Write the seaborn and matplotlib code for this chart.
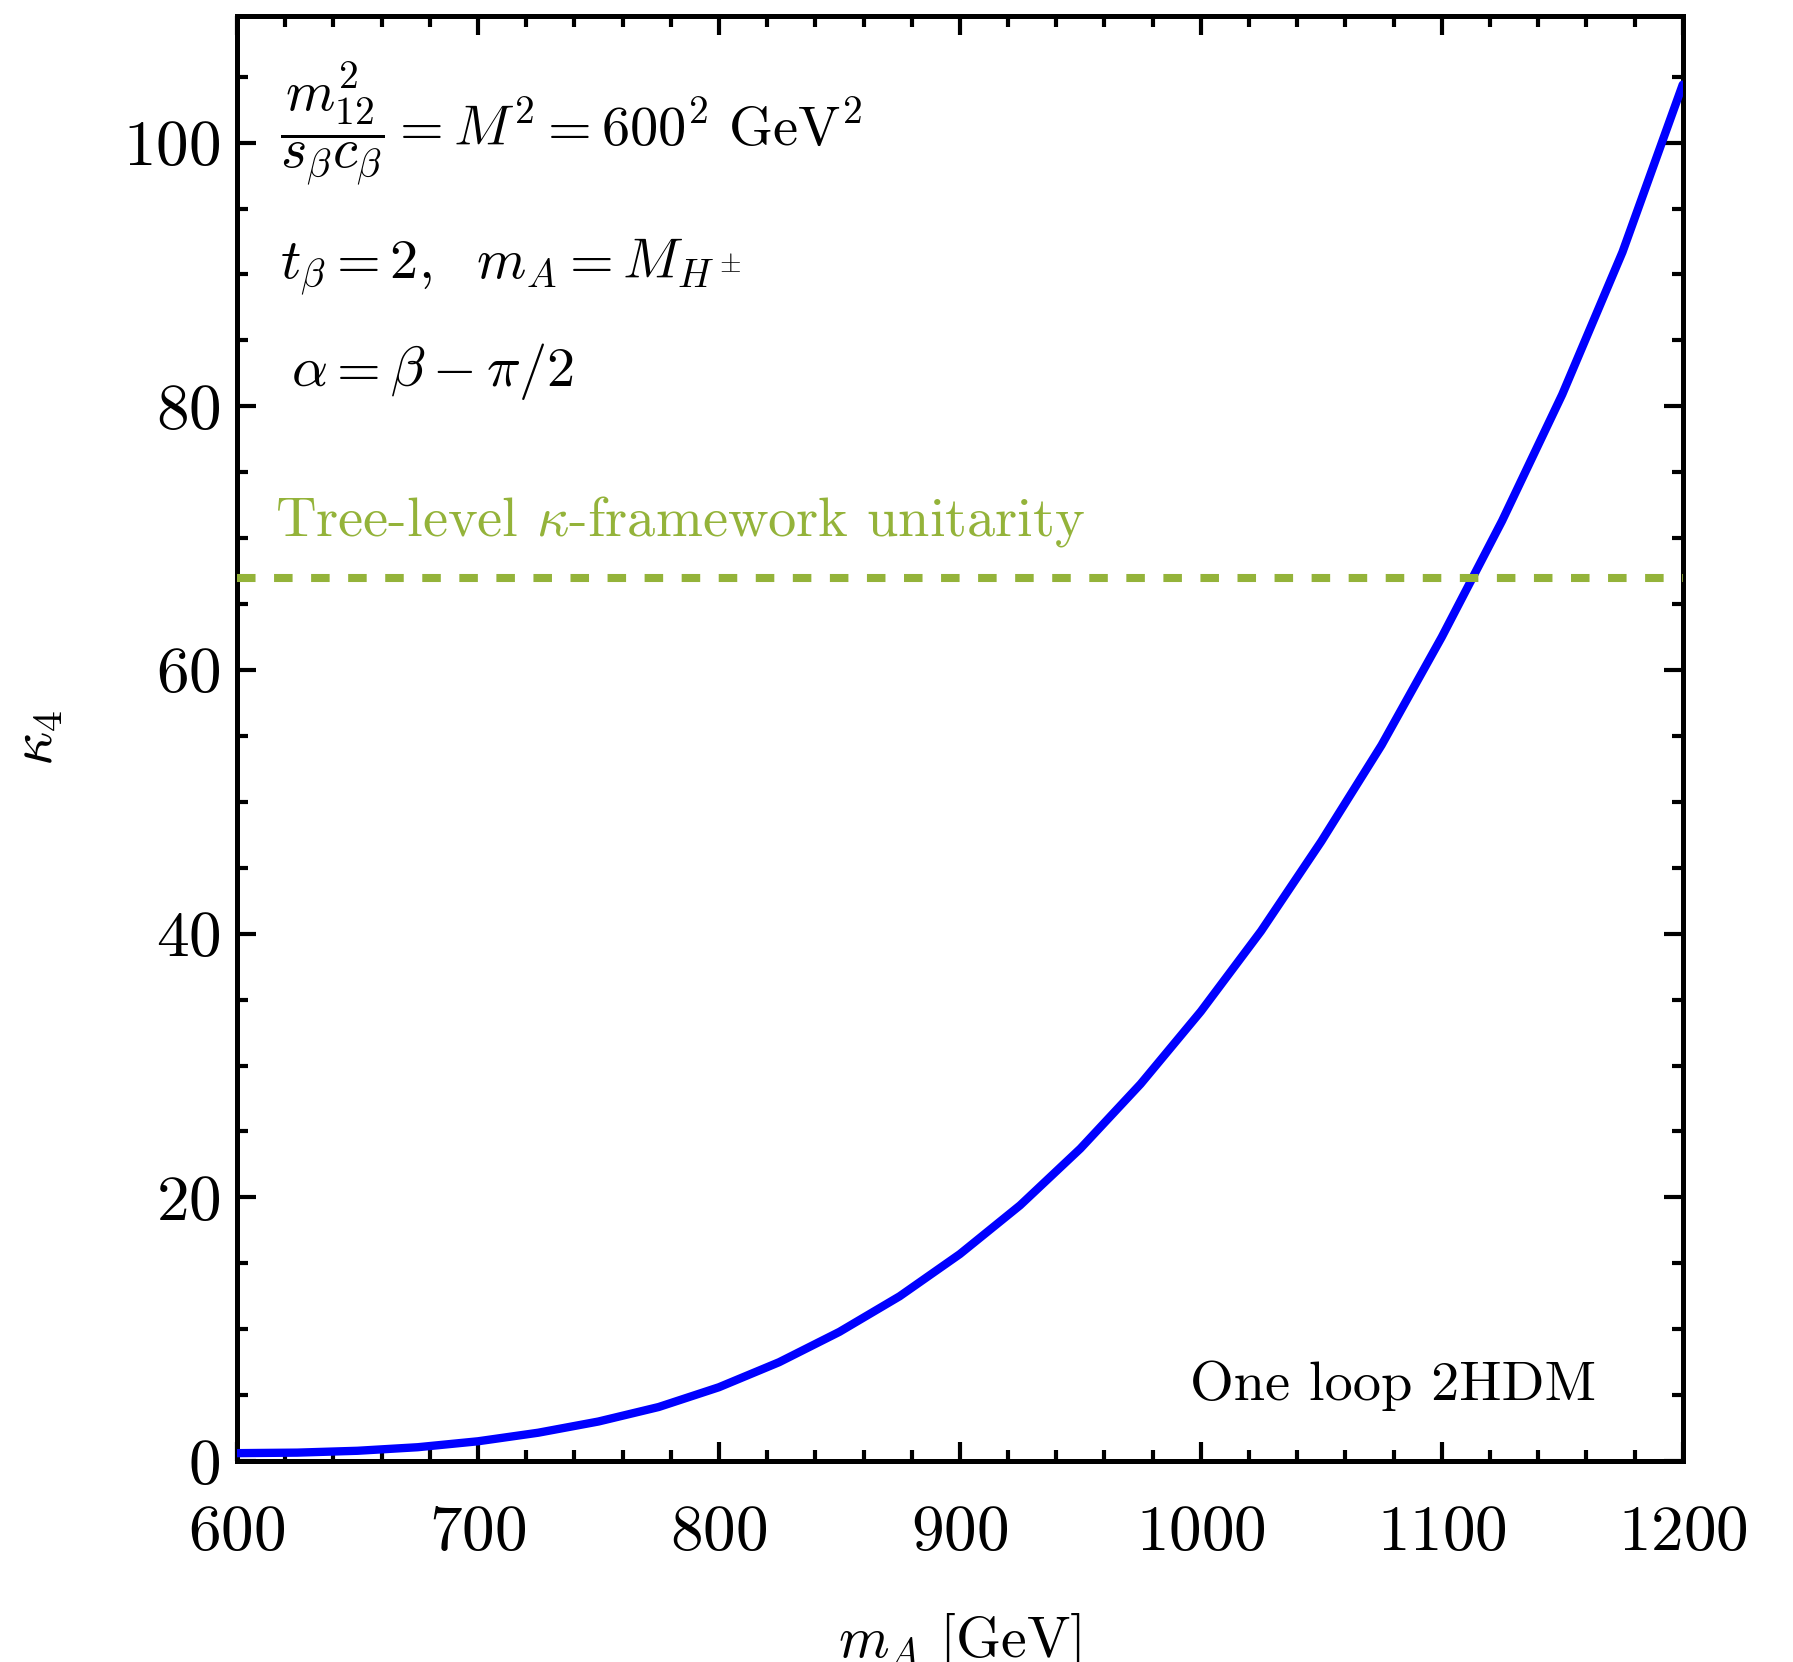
import numpy as np
import pandas as pd
import matplotlib
matplotlib.use("Agg")
import matplotlib.pyplot as plt
from matplotlib.ticker import MultipleLocator
import seaborn as sns

# kappa_4 versus m_A (one-loop 2HDM)
m_A = [600, 625, 650, 675, 700, 725, 750, 775, 800, 825, 850, 875, 900,
       925, 950, 975, 1000, 1025, 1050, 1075, 1100, 1125, 1150, 1175, 1200]
kappa4 = [0.6, 0.64, 0.78, 1.05, 1.5, 2.15, 3.0, 4.1, 5.6, 7.5, 9.8, 12.5, 15.7,
          19.4, 23.7, 28.6, 34.1, 40.2, 47.0, 54.3, 62.5, 71.3, 80.9, 91.7, 104.4]

# tree-level unitarity bound on kappa_4
unitarity_bound = 67.0

x_ticks = [600, 700, 800, 900, 1000, 1100, 1200]
y_ticks = [0, 20, 40, 60, 80, 100]

sns.set_theme(style="ticks")
plt.rcParams.update({
    "font.family": ["cmr10", "DejaVu Serif"],
    "mathtext.fontset": "cm",
    "axes.formatter.use_mathtext": True,
    "axes.unicode_minus": False,
    "font.size": 23.5,
    "text.color": "black",
    "axes.labelcolor": "black",
})

fs_tick = 23.5
fs_text = 20.3
fig = plt.figure(figsize=(17.93 / 2, 16.62 / 2), dpi=200)
ax = fig.add_axes([0.1322, 0.1209, 0.9385 - 0.1322, 0.9905 - 0.1209])

df = pd.DataFrame({"m_A": m_A, "kappa4": kappa4})
sns.lineplot(data=df, x="m_A", y="kappa4", ax=ax, color="#0000ff", lw=3.0,
             zorder=3)
ax.axhline(unitarity_bound, color="#94b33a", lw=2.9,
           linestyle=(0, (2.3, 2.3)), dash_capstyle="butt", zorder=4)

ax.set_xlim(600, 1200)
ax.set_ylim(0, 1.05 * max(kappa4))
ax.set_xticks(x_ticks)
ax.set_yticks(y_ticks)
ax.xaxis.set_minor_locator(MultipleLocator(20))
ax.yaxis.set_minor_locator(MultipleLocator(5))

for s in ax.spines.values():
    s.set_linewidth(1.8)
    s.set_color("black")
ax.tick_params(which="both", direction="in", top=True, right=True,
               colors="black", labelsize=fs_tick)
ax.tick_params(which="major", length=6.8, width=1.5)
ax.tick_params(which="minor", length=3.8, width=1.5)
ax.tick_params(axis="x", which="major", pad=16)
ax.tick_params(axis="y", which="major", pad=6)

ax.set_xlabel(r"$m_A\ [\mathrm{GeV}]$", fontsize=fs_text + 0.5, labelpad=17)
ax.set_ylabel(r"$\kappa_4$", fontsize=21.5, labelpad=21)

ax.text(0.03, 0.925, r"$\dfrac{m_{12}^2}{s_\beta c_\beta} = M^2 = 600^2\ \mathrm{GeV}^2$",
        transform=ax.transAxes, fontsize=fs_text, ha="left", va="center")
ax.text(0.03, 0.826, r"$t_\beta = 2,\ \ m_A = M_{H^\pm}$",
        transform=ax.transAxes, fontsize=fs_text, ha="left", va="center")
ax.text(0.037, 0.754, r"$\alpha = \beta - \pi/2$",
        transform=ax.transAxes, fontsize=fs_text, ha="left", va="center")
ax.text(0.026, 0.650, r"Tree-level $\kappa$-framework unitarity",
        transform=ax.transAxes, fontsize=fs_text, ha="left", va="center",
        color="#94b33a")
ax.text(0.940, 0.052, "One loop 2HDM", transform=ax.transAxes, fontsize=fs_text,
        ha="right", va="center")

fig.savefig("out.png", dpi=200, facecolor="white")
